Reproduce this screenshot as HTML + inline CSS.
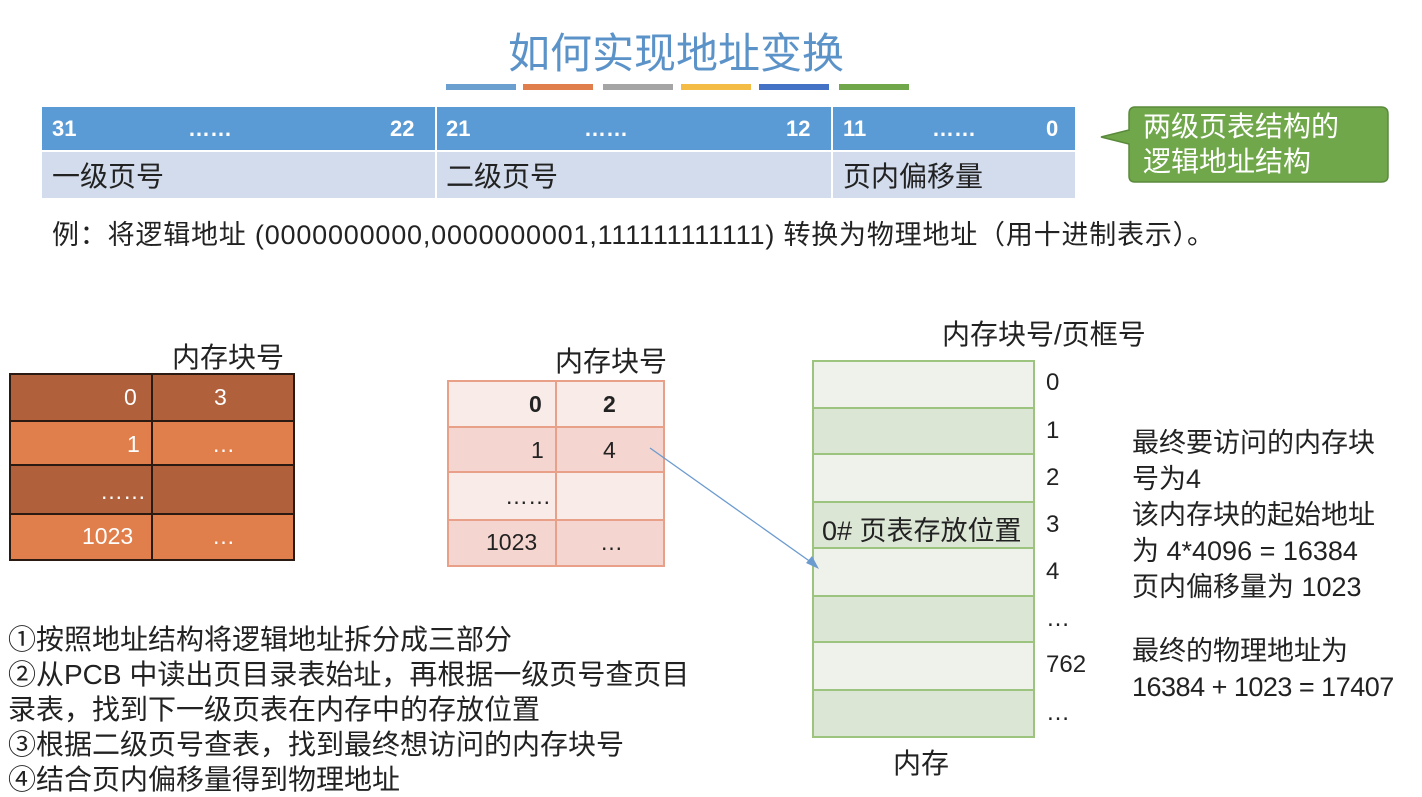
<!DOCTYPE html>
<html><head><meta charset="utf-8"><style>
body{margin:0;width:1422px;height:796px;background:#fff;position:relative;overflow:hidden;font-family:"Liberation Sans","Noto Sans CJK SC",sans-serif;color:#222}
.a{position:absolute;white-space:nowrap}
.bar{position:absolute;top:84px;height:6px;width:70px}
.c{position:absolute;box-sizing:border-box}
</style></head><body>
<div class="a" style="left:508px;top:20px;font-size:42px;color:#5b93c9;">如何实现地址变换</div>
<div class="bar" style="left:446px;background:#6a9fd0"></div>
<div class="bar" style="left:523px;background:#e07f4c"></div>
<div class="bar" style="left:603px;background:#a5a5a5"></div>
<div class="bar" style="left:681px;background:#f5bc45"></div>
<div class="bar" style="left:759px;background:#4472c4"></div>
<div class="bar" style="left:839px;background:#70a74a"></div>

<div class="c" style="left:42px;top:107px;width:1033px;height:43px;background:#5b9bd5"></div>
<div class="c" style="left:42px;top:152px;width:1033px;height:46px;background:#d2dcec"></div>
<div class="c" style="left:435px;top:107px;width:2px;height:91px;background:#fff"></div>
<div class="c" style="left:831px;top:107px;width:2px;height:91px;background:#fff"></div>
<div class="a" style="left:52px;top:116px;font-size:22px;font-weight:bold;color:#fff">31</div>
<div class="a" style="left:188px;top:116px;font-size:22px;font-weight:bold;color:#fff">……</div>
<div class="a" style="left:390px;top:116px;font-size:22px;font-weight:bold;color:#fff">22</div>
<div class="a" style="left:446px;top:116px;font-size:22px;font-weight:bold;color:#fff">21</div>
<div class="a" style="left:584px;top:116px;font-size:22px;font-weight:bold;color:#fff">……</div>
<div class="a" style="left:786px;top:116px;font-size:22px;font-weight:bold;color:#fff">12</div>
<div class="a" style="left:843px;top:116px;font-size:22px;font-weight:bold;color:#fff">11</div>
<div class="a" style="left:932px;top:116px;font-size:22px;font-weight:bold;color:#fff">……</div>
<div class="a" style="left:1046px;top:116px;font-size:22px;font-weight:bold;color:#fff">0</div>
<div class="a" style="left:52px;top:155px;font-size:28px">一级页号</div>
<div class="a" style="left:446px;top:155px;font-size:28px">二级页号</div>
<div class="a" style="left:843px;top:155px;font-size:28px">页内偏移量</div>

<svg class="a" style="left:1095px;top:100px" width="300" height="90"><path d="M40,7 Q34,7 34,14 L34,30 L6,37 L34,44 L34,76 Q34,82 40,82 L286,82 Q293,82 293,76 L293,14 Q293,7 286,7 Z" fill="#70a74a" stroke="#5a8a3b" stroke-width="1.5"/></svg>
<div class="a" style="left:1143px;top:109px;font-size:28px;color:#fff;line-height:35px">两级页表结构的<br>逻辑地址结构</div>

<div class="a" style="left:52px;top:213px;font-size:27px;letter-spacing:0.8px">例：将逻辑地址 (0000000000,0000000001,111111111111) 转换为物理地址（用十进制表示）。</div>

<div class="a" style="left:172px;top:336px;font-size:28px">内存块号</div>
<div class="c" style="left:9px;top:373px;width:286px;height:188px;border:2px solid #2a1a12;background:#b0603a"></div>
<div class="c" style="left:11px;top:420px;width:282px;height:46px;background:#e07f4c;border-top:2px solid #2a1a12;border-bottom:2px solid #2a1a12"></div>
<div class="c" style="left:11px;top:513px;width:282px;height:46px;background:#e07f4c;border-top:2px solid #2a1a12"></div>
<div class="c" style="left:151px;top:373px;width:2px;height:188px;background:#2a1a12"></div>
<div class="a" style="left:124px;top:384px;font-size:23px;color:#fff">0</div>
<div class="a" style="left:214px;top:384px;font-size:23px;color:#fff">3</div>
<div class="a" style="left:127px;top:431px;font-size:23px;color:#fff">1</div>
<div class="a" style="left:212px;top:431px;font-size:23px;color:#fff">…</div>
<div class="a" style="left:100px;top:478px;font-size:23px;color:#fff">……</div>
<div class="a" style="left:82px;top:523px;font-size:23px;color:#fff">1023</div>
<div class="a" style="left:212px;top:523px;font-size:23px;color:#fff">…</div>

<div class="a" style="left:555px;top:340px;font-size:28px">内存块号</div>
<div class="c" style="left:447px;top:380px;width:218px;height:187px;border:2px solid #e9a088;background:#f9ebe8"></div>
<div class="c" style="left:449px;top:426px;width:214px;height:47px;background:#f4d5cf;border-top:2px solid #e9a088;border-bottom:2px solid #e9a088"></div>
<div class="c" style="left:449px;top:519px;width:214px;height:46px;background:#f4d5cf;border-top:2px solid #e9a088"></div>
<div class="c" style="left:555px;top:380px;width:2px;height:187px;background:#e9a088"></div>
<div class="a" style="left:529px;top:391px;font-size:23px;font-weight:bold">0</div>
<div class="a" style="left:603px;top:391px;font-size:23px;font-weight:bold">2</div>
<div class="a" style="left:531px;top:437px;font-size:23px">1</div>
<div class="a" style="left:603px;top:437px;font-size:23px">4</div>
<div class="a" style="left:505px;top:483px;font-size:23px">……</div>
<div class="a" style="left:486px;top:529px;font-size:23px">1023</div>
<div class="a" style="left:600px;top:529px;font-size:23px">…</div>

<div class="a" style="left:942px;top:313px;font-size:28px">内存块号/页框号</div>
<div class="c" style="left:812px;top:360px;width:223px;height:378px;border:2px solid #9cc47e;background:#eef2ea"></div>
<div class="c" style="left:814px;top:407px;width:219px;height:48px;background:#dce6d5;border-top:2px solid #9cc47e;border-bottom:2px solid #9cc47e"></div>
<div class="c" style="left:814px;top:501px;width:219px;height:48px;background:#dce6d5;border-top:2px solid #9cc47e;border-bottom:2px solid #9cc47e"></div>
<div class="c" style="left:814px;top:595px;width:219px;height:48px;background:#dce6d5;border-top:2px solid #9cc47e;border-bottom:2px solid #9cc47e"></div>
<div class="c" style="left:814px;top:689px;width:219px;height:47px;background:#dce6d5;border-top:2px solid #9cc47e"></div>
<div class="a" style="left:822px;top:509px;font-size:27px">0# 页表存放位置</div>
<div class="a" style="left:1046px;top:369px;font-size:24px">0</div>
<div class="a" style="left:1046px;top:417px;font-size:24px">1</div>
<div class="a" style="left:1046px;top:464px;font-size:24px">2</div>
<div class="a" style="left:1046px;top:511px;font-size:24px">3</div>
<div class="a" style="left:1046px;top:558px;font-size:24px">4</div>
<div class="a" style="left:1046px;top:605px;font-size:24px">…</div>
<div class="a" style="left:1046px;top:651px;font-size:24px">762</div>
<div class="a" style="left:1046px;top:699px;font-size:24px">…</div>
<div class="a" style="left:893px;top:742px;font-size:28px">内存</div>

<div class="a" style="left:1132px;top:425px;font-size:27px;line-height:36px">最终要访问的内存块<br>号为4<br>该内存块的起始地址<br>为 4*4096 = 16384<br>页内偏移量为 1023</div>
<div class="a" style="left:1132px;top:633px;font-size:27px;line-height:36px">最终的物理地址为<br><span style="letter-spacing:-0.5px">16384 + 1023 = 17407</span></div>

<svg class="a" style="left:0;top:0" width="1422" height="796"><line x1="650" y1="448" x2="815" y2="565" stroke="#6c9bcf" stroke-width="1.3"/><polygon points="819,569 806,563 812,556" fill="#6c9bcf"/></svg>

<div class="a" style="left:8px;top:622px;font-size:28px;line-height:35px">①按照地址结构将逻辑地址拆分成三部分<br>②从PCB 中读出页目录表始址，再根据一级页号查页目<br>录表，找到下一级页表在内存中的存放位置<br>③根据二级页号查表，找到最终想访问的内存块号<br>④结合页内偏移量得到物理地址</div>
</body></html>
